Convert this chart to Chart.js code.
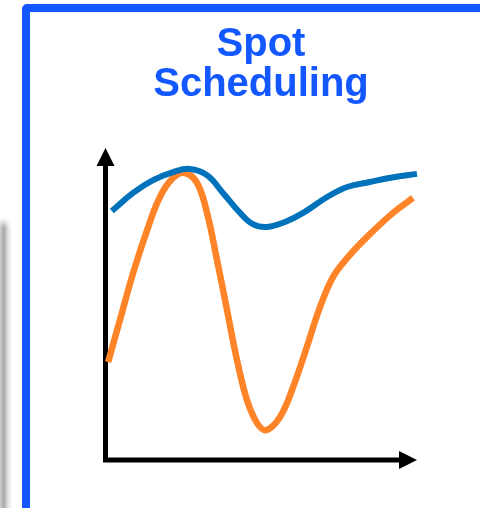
<!DOCTYPE html>
<html>
<head>
<meta charset="utf-8">
<script src="https://cdn.jsdelivr.net/npm/chart.js@4/dist/chart.umd.min.js"></script>
<style>
  body { margin: 0; background: #fff; overflow: hidden; }
  #wrap { position: relative; width: 480px; height: 508px; }
  #shadow {
    position: absolute; left: 0; top: 218px; width: 12px; height: 300px;
    background: linear-gradient(to right, #cfcfcf 0px, #a9a9a9 4px, #e2e2e2 8px, #fff 12px);
    -webkit-mask-image: linear-gradient(to bottom, transparent 0px, #000 10px);
    mask-image: linear-gradient(to bottom, transparent 0px, #000 10px);
  }
  #frame {
    position: absolute; left: 22px; top: 4px; width: 500px; height: 500px;
    border: 8px solid #1257ff; border-radius: 5px;
  }
  canvas { position: absolute; left: 0; top: 0; }
</style>
</head>
<body>
<div id="wrap">
  <div id="shadow"></div>
  <div id="frame"></div>
  <canvas id="chart" width="480" height="508"></canvas>
</div>
<script>
// title lines
const titleLines = ['Spot', 'Scheduling'];

// blue curve (x, y in 0..100)
const blueX = [2.2, 9.0, 15.4, 21.8, 27.2, 32.7, 37.8, 43.3, 47.4, 51.9, 57.7, 63.5, 71.2, 77.6, 84.9, 92.9, 100];
const blueY = [79.8, 85.6, 89.7, 92.3, 93.3, 91.3, 85.6, 79.2, 75.6, 74.7, 76.3, 79.2, 84.3, 87.5, 89.1, 90.7, 91.7];

// orange curve
const orangeX = [1.0, 4.8, 9.0, 13.5, 17.6, 21.8, 25.6, 29.5, 32.7, 35.9, 39.1, 42.3, 45.5, 48.7, 51.6, 56.1, 60.3, 64.7, 68.9, 73.1, 77.6, 84.0, 92.3, 98.7];
const orangeY = [31.4, 44.9, 59.9, 73.7, 84.3, 90.4, 92.0, 88.8, 79.2, 64.1, 48.1, 32.1, 19.2, 11.9, 9.6, 13.8, 23.4, 36.2, 49.0, 58.7, 64.7, 71.5, 79.2, 84.0];

function pts(xs, ys) {
  return xs.map(function (x, i) { return { x: x, y: ys[i] }; });
}

// draws the two axes with arrow heads
const axesPlugin = {
  id: 'arrowAxes',
  beforeDatasetsDraw(chart) {
    const ctx = chart.ctx;
    const a = chart.chartArea;
    const x0 = a.left + 0.5;
    const y0 = a.bottom;
    ctx.save();
    ctx.strokeStyle = '#000';
    ctx.fillStyle = '#000';
    ctx.lineWidth = 5;
    ctx.beginPath();
    ctx.moveTo(x0, y0 + 2.5);
    ctx.lineTo(x0, a.top + 16);
    ctx.moveTo(x0 - 2.5, y0);
    ctx.lineTo(a.right - 16, y0);
    ctx.stroke();
    // y arrow
    ctx.beginPath();
    ctx.moveTo(x0, a.top);
    ctx.lineTo(x0 - 9, a.top + 18);
    ctx.lineTo(x0 + 9, a.top + 18);
    ctx.closePath();
    ctx.fill();
    // x arrow
    ctx.beginPath();
    ctx.moveTo(a.right, y0);
    ctx.lineTo(a.right - 18, y0 - 9);
    ctx.lineTo(a.right - 18, y0 + 9);
    ctx.closePath();
    ctx.fill();
    ctx.restore();
  }
};

var ctx = document.getElementById('chart').getContext('2d');
var chart = new Chart(ctx, {
  type: 'line',
  data: {
    datasets: [{
      data: pts(blueX, blueY),
      borderColor: '#0072bb',
      borderWidth: 6,
      borderCapStyle: 'butt',
      tension: 0.4,
      pointRadius: 0,
      clip: false
    }, {
      data: pts(orangeX, orangeY),
      borderColor: '#ff8428',
      borderWidth: 6.5,
      borderCapStyle: 'butt',
      tension: 0.4,
      pointRadius: 0,
      clip: false
    }]
  },
  options: {
    responsive: false,
    animation: false,
    layout: { padding: { left: 105, right: 63, top: 0, bottom: 48 } },
    scales: {
      x: { type: 'linear', min: 0, max: 100, display: false },
      y: { min: 0, max: 100, display: false }
    },
    plugins: {
      legend: { display: false },
      tooltip: { enabled: false },
      title: {
        display: true,
        text: titleLines,
        color: '#1257ff',
        font: { family: 'Liberation Sans, Arial, sans-serif', size: 40, weight: 'bold', lineHeight: 1 },
        padding: { top: 25, bottom: 43 }
      }
    }
  },
  plugins: [axesPlugin]
});
</script>
</body>
</html>
